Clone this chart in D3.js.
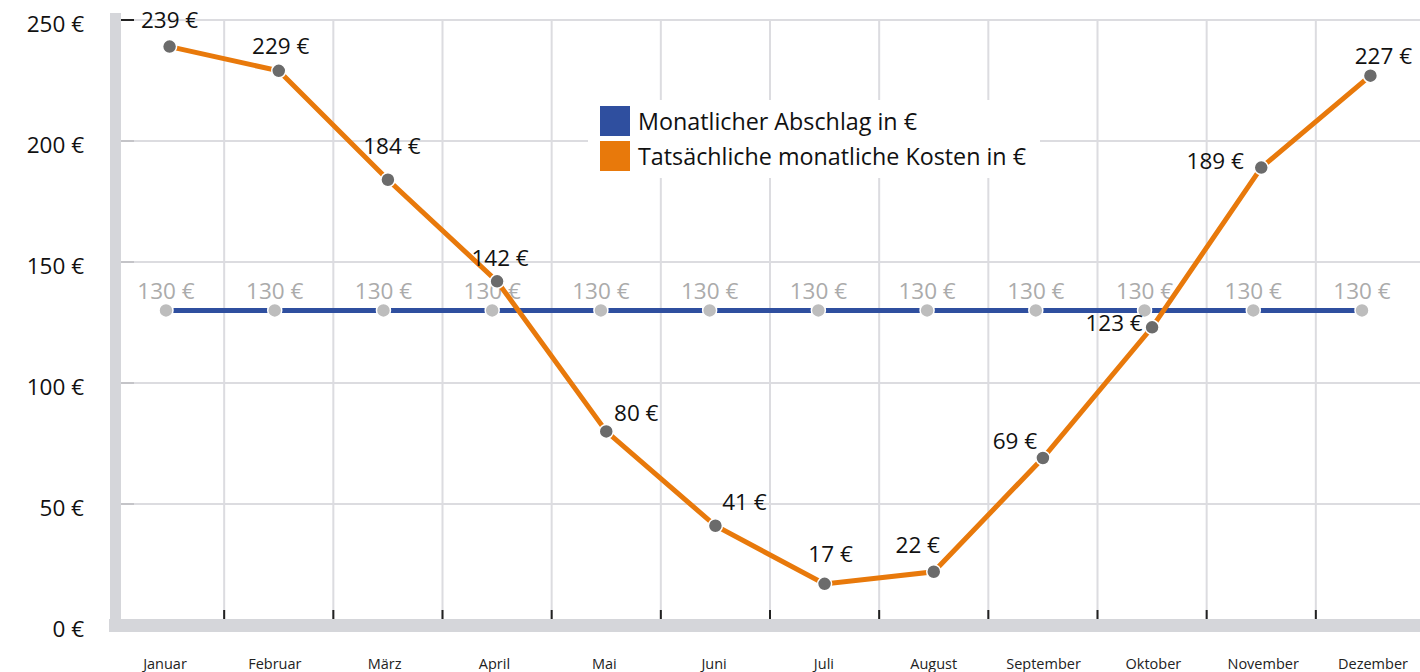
<!DOCTYPE html>
<html>
<head>
<meta charset="utf-8">
<script src="https://cdn.jsdelivr.net/npm/d3@7"></script>
<style>
  html, body { margin: 0; padding: 0; background: #fff; }
  svg { display: block; font-family: "Open Sans", "Noto Sans", sans-serif; }
</style>
</head>
<body>
<svg id="chart" width="1420" height="672"></svg>
<script>
// ---- data ----
const months = ["Januar","Februar","März","April","Mai","Juni","Juli","August","September","Oktober","November","Dezember"];
const abschlag = [130,130,130,130,130,130,130,130,130,130,130,130];
const kosten = [239,229,184,142,80,41,17,22,69,123,189,227];
const yTickValues = [0,50,100,150,200,250];
const seriesNames = ["Monatlicher Abschlag in €", "Tatsächliche monatliche Kosten in €"];

// ---- layout (label nudges, not data) ----
const kostenLabelNudge = [[0,-27],[2,-25],[4,-34],[3,-23],[30,-18],[29,-24],[6,-30],[-16,-27],[-28,-17],[-38,-4],[-46,-7],[13,-20]];

const W = 1420, H = 672;
const FS = 22.5;
const svg = d3.select("#chart");
const blue = "#2f4f9f", orange = "#e8790b", gridC = "#dcdce0", barC = "#d5d6da";

const x = d3.scaleBand().domain(months).range([115, 1425]);
const xc = m => x(m) + x.bandwidth() / 2;
const xBlue = d3.scalePoint().domain(months).range([166, 1362]);
const xLab = d3.scalePoint().domain(months).range([165, 1373]);
const y = d3.scaleLinear().domain([0, 250]).range([625, 20]);

// horizontal grid
svg.append("g").selectAll("line").data(yTickValues.filter(v => v > 0)).join("line")
  .attr("x1", 121).attr("x2", W).attr("y1", d => y(d)).attr("y2", d => y(d))
  .attr("stroke", gridC).attr("stroke-width", 2);

// vertical grid
svg.append("g").selectAll("line").data(months.slice(1)).join("line")
  .attr("x1", d => x(d)).attr("x2", d => x(d)).attr("y1", y(250)).attr("y2", 619)
  .attr("stroke", gridC).attr("stroke-width", 2);

// small y ticks
svg.append("g").selectAll("line").data(yTickValues.filter(v => v > 0)).join("line")
  .attr("x1", 121).attr("x2", 134).attr("y1", d => y(d)).attr("y2", d => y(d))
  .attr("stroke", d => d === 250 ? "#222" : "#c4c4c8").attr("stroke-width", 2);

// x tick marks
svg.append("g").selectAll("line").data(months.slice(1)).join("line")
  .attr("x1", d => x(d)).attr("x2", d => x(d)).attr("y1", 610).attr("y2", 619)
  .attr("stroke", "#222").attr("stroke-width", 2);

// axis bars
svg.append("rect").attr("x", 110).attr("y", 13).attr("width", 11).attr("height", 619).attr("fill", barC);
svg.append("rect").attr("x", 109).attr("y", 619).attr("width", W - 109).attr("height", 13).attr("fill", barC);

// y labels
svg.append("g").selectAll("text").data(yTickValues).join("text")
  .attr("x", 84).attr("y", d => y(d) + 4 + 8).attr("text-anchor", "end")
  .attr("font-size", FS).attr("fill", "#111")
  .text(d => d + " €");

// x labels
svg.append("g").selectAll("text").data(months).join("text")
  .attr("x", d => xLab(d)).attr("y", 669).attr("text-anchor", "middle")
  .attr("font-size", 14.5).attr("fill", "#222")
  .text(d => d);

// legend
const lg = svg.append("g");
lg.append("rect").attr("x", 588).attr("y", 100).attr("width", 452).attr("height", 78).attr("fill", "#fff");
const lcol = [blue, orange];
seriesNames.forEach((n, i) => {
  lg.append("rect").attr("x", 600).attr("y", 106 + i * 35).attr("width", 30).attr("height", 30).attr("fill", lcol[i]);
  lg.append("text").attr("x", 638).attr("y", 130 + i * 35).attr("font-size", 23.3).attr("fill", "#111").text(n);
});

// blue series
const blueData = months.map((m, i) => ({ m, v: abschlag[i] }));
svg.append("path").datum(blueData)
  .attr("d", d3.line().x(d => xBlue(d.m)).y(d => y(d.v)))
  .attr("fill", "none").attr("stroke", blue).attr("stroke-width", 5);
svg.append("g").selectAll("circle").data(blueData).join("circle")
  .attr("cx", d => xBlue(d.m)).attr("cy", d => y(d.v)).attr("r", 7)
  .attr("fill", "#bdbdbd").attr("stroke", "#fff").attr("stroke-width", 1.5);
svg.append("g").selectAll("text").data(blueData).join("text")
  .attr("x", d => xBlue(d.m)).attr("y", d => y(d.v) - 19 + 8).attr("text-anchor", "middle")
  .attr("font-size", FS).attr("fill", "#ababab")
  .text(d => d.v + " €");

// orange series
const orangeData = months.map((m, i) => ({ m, v: kosten[i], i }));
svg.append("path").datum(orangeData)
  .attr("d", d3.line().x(d => xc(d.m)).y(d => y(d.v)))
  .attr("fill", "none").attr("stroke", orange).attr("stroke-width", 5);
svg.append("g").selectAll("circle").data(orangeData).join("circle")
  .attr("cx", d => xc(d.m)).attr("cy", d => y(d.v)).attr("r", 7)
  .attr("fill", "#6b6b6b").attr("stroke", "#fff").attr("stroke-width", 1.5);
svg.append("g").selectAll("text").data(orangeData).join("text")
  .attr("x", d => xc(d.m) + kostenLabelNudge[d.i][0])
  .attr("y", d => y(d.v) + kostenLabelNudge[d.i][1] + 8)
  .attr("text-anchor", "middle")
  .attr("font-size", FS).attr("fill", "#111")
  .text(d => d.v + " €");
</script>
</body>
</html>
